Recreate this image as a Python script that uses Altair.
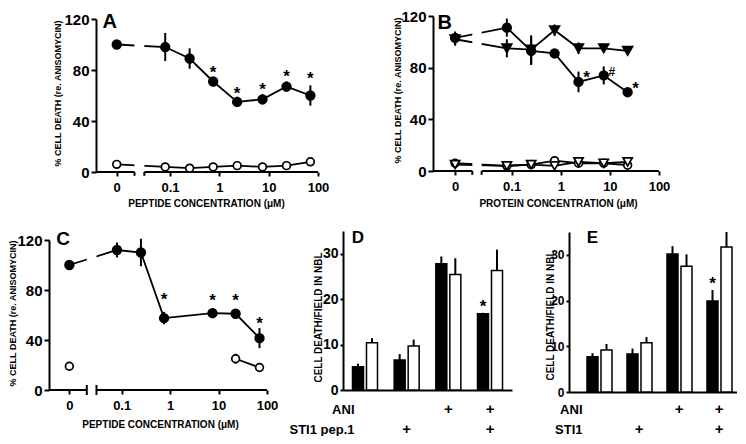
import math
import altair as alt
import pandas as pd

FONT = "Liberation Sans"

# ---------------- Panel A ----------------
A_CONC = [0, 0.08, 0.25, 0.75, 2.3, 7.5, 23, 70]
A_ANI = [100, 98, 89, 71, 55, 57, 67, 60]
A_ANI_ERR = [2, 11, 8, 3, 4, 4, 4, 8]
A_CTRL = [6, 4, 3, 4, 5, 4, 5, 8]
A_CTRL_ERR = [1, 1, 1, 1, 1, 1, 1, 1.5]
A_STAR_CONC = [0.75, 2.3, 7.5, 23, 70]
A_STAR_Y = [82, 66, 69, 79, 78]

# ---------------- Panel B ----------------
B_CONC = [0, 0.08, 0.25, 0.75, 2.3, 7.5, 23]
B_CIRC = [103, 111, 93, 91, 69, 74, 61]
B_CIRC_ERR = [5, 7, 11, 2, 8, 7, 2]
B_TRI = [102, 95, 94, 109, 95, 95, 93]
B_TRI_ERR = [5, 7, 11, 4.5, 4.5, 3, 2]
B_CIRC_OPEN = [6, 4, 5, 8, 6, 6, 4.5]
B_TRI_OPEN = [5, 4, 5, 4, 7, 6, 7]
B_MARK_CONC = [2.3, 7.5, 23]
B_MARK_Y = [77, 81, 68]
B_MARK_TEXT = ["*", "#", "*"]

# ---------------- Panel C ----------------
C_CONC = [0, 0.08, 0.25, 0.75, 7.5, 22.5, 70]
C_ANI = [100, 112, 110, 57.5, 61.5, 61, 41.5]
C_ANI_ERR = [4, 6, 11, 5, 4, 3, 8]
C_CTRL_CONC = [0, 22.5, 70]
C_CTRL = [19, 25, 18]
C_CTRL_ERR = [1, 4, 1.5]
C_CTRL_LINE = ["c0", "c1", "c1"]
C_STAR_CONC = [0.75, 7.5, 22.5, 70]
C_STAR_Y = [77, 76, 76, 58]

X_TICK_LABELS = ["0", "0.1", "1", "10", "100"]
X_TICK_LOG = [None, -1, 0, 1, 2]
Y_TICKS = [0, 40, 80, 120]
Y_TITLE = "% CELL DEATH (re. ANISOMYCIN)"

# ---------------- Panels D / E ----------------
GROUPS = ["g1", "g2", "g3", "g4"]
ANI_ROW = ["", "", "+", "+"]
STI_ROW = ["", "+", "", "+"]
D_FILLED = [5.1, 6.6, 27.8, 16.8]
D_FILLED_ERR = [0.7, 1.3, 1.6, 0.2]
D_OPEN = [10.4, 9.7, 25.4, 26.3]
D_OPEN_ERR = [1.0, 1.4, 3.6, 4.6]
D_STAR_GROUP, D_STAR_Y = "g4", 19.6
E_FILLED = [7.7, 8.3, 30.2, 19.9]
E_FILLED_ERR = [0.8, 1.2, 1.7, 2.4]
E_OPEN = [9.2, 10.8, 27.5, 31.7]
E_OPEN_ERR = [1.3, 1.2, 2.6, 3.3]
E_STAR_GROUP, E_STAR_Y = "g4", 25
BAR_TICKS = [0, 10, 20, 30]
BAR_TITLE = "CELL DEATH/FIELD IN NBL"


def upos(c, zero):
    return zero if c == 0 else math.log10(c)


def line_panel(cfg, series, marks, letter):
    zero = cfg["zero"]
    rows = []
    for s in series:
        for i, c in enumerate(s["conc"]):
            v, e = s["val"][i], s["err"][i]
            rows.append(dict(u=upos(c, zero), val=v, lo=v - e, hi=v + e,
                             line=s["line"][i], shape=s["shape"],
                             fill=s["fill"], sz=s["size"]))
    pts = pd.DataFrame(rows)
    xs = alt.Scale(domain=cfg["xdom"], range=cfg["xrange"], nice=False, zero=False)
    ys = alt.Scale(domain=[0, 120], range=cfg["yrange"], nice=False, zero=False)

    tick_vals = [zero if t is None else t for t in X_TICK_LOG]
    expr = ""
    for v, lab in zip(tick_vals, X_TICK_LABELS):
        expr += f"abs(datum.value - ({v})) < 0.01 ? '{lab}' : "
    expr += "''"
    xaxis = alt.Axis(values=tick_vals, labelExpr=expr, domain=False, grid=False,
                     ticks=True, tickSize=4, tickWidth=2, tickColor="black",
                     labelFont=FONT, labelFontSize=13, labelFontWeight="bold",
                     labelColor="black", labelPadding=5, labelOverlap=False,
                     labelFlush=False,
                     title=cfg["xtitle"], titleFont=FONT, titleFontSize=10,
                     titleFontWeight="bold", titleColor="black",
                     titleX=cfg["xtitleX"], titleY=cfg["xtitleY"],
                     titleBaseline="middle", titleAlign="center")
    yaxis = alt.Axis(values=Y_TICKS, domain=True, domainWidth=2, domainColor="black",
                     grid=False, tickSize=5, tickWidth=2, tickColor="black",
                     labelFont=FONT, labelFontSize=15, labelFontWeight="bold",
                     labelColor="black", labelPadding=2, offset=cfg["yoffset"],
                     title=Y_TITLE, titleFont=FONT, titleFontSize=9,
                     titleFontWeight="bold", titleColor="black",
                     titleX=cfg["ytitleX"], titleY=cfg["ytitleY"], titleAngle=270,
                     titleBaseline="middle", titleAlign="center")

    def X(f):
        return alt.X(f, type="quantitative", scale=xs, axis=xaxis)

    def Y(f):
        return alt.Y(f, type="quantitative", scale=ys, axis=yaxis)

    err = alt.Chart(pts[pts["hi"] - pts["lo"] > 2.5]).mark_rule(
        color="black", strokeWidth=2).encode(x=X("u"), y=Y("lo"), y2="hi")
    lines = alt.Chart(pts).mark_line(color="black", strokeWidth=1.8).encode(
        x=X("u"), y=Y("val"), detail="line:N", order="u:Q")
    b0, b1 = cfg["brk"]
    gap = alt.Chart(pd.DataFrame([dict(u=b0, b1=b1, val=-2, yhi=126)])).mark_rect(
        color="white").encode(x=X("u"), x2="b1", y=Y("val"), y2="yhi")
    lo_u, hi_u = cfg["xdom"][0], cfg["xdom"][1]
    seg = alt.Chart(pd.DataFrame([dict(u=lo_u, s1=b0, val=0),
                                  dict(u=b1, s1=hi_u, val=0)])).mark_rule(
        color="black", strokeWidth=2).encode(x=X("u"), x2="s1", y=Y("val"))
    t0, t1 = cfg["brk_tick"]
    btick = alt.Chart(pd.DataFrame([dict(u=b0, val=t0, t1=t1),
                                    dict(u=b1, val=t0, t1=t1)])).mark_rule(
        color="black", strokeWidth=2).encode(x=X("u"), y=Y("val"), y2="t1")
    points = alt.Chart(pts).mark_point(filled=True, stroke="black", strokeWidth=1.7,
                                       opacity=1).encode(
        x=X("u"), y=Y("val"),
        shape=alt.Shape("shape:N", scale=None),
        fill=alt.Fill("fill:N", scale=None),
        size=alt.Size("sz:Q", scale=None))
    mk = pd.DataFrame(dict(u=[upos(c, zero) for c in marks["conc"]],
                           val=marks["y"], t=marks["text"], fs=marks["fs"]))
    stars = alt.Chart(mk).mark_text(font=FONT, fontWeight="bold", baseline="middle",
                                    dx=marks["dx"], dy=6, color="black").encode(
        x=X("u"), y=Y("val"), text="t:N", size=alt.Size("fs:Q", scale=None))
    let = alt.Chart(pd.DataFrame([letter])).mark_text(
        font=FONT, fontWeight="bold", fontSize=letter["fs"], baseline="alphabetic",
        align="center", color="black").encode(x=X("u"), y=Y("val"), text="t:N")
    return alt.layer(err, lines, gap, seg, btick, points, stars, let).properties(
        width=cfg["width"], height=cfg["height"])


def bar_panel(cfg, filled, filled_err, opn, opn_err, star, letter):
    rows = []
    for i, g in enumerate(GROUPS):
        rows.append(dict(group=g, kind="filled", val=filled[i], hi=filled[i] + filled_err[i]))
        rows.append(dict(group=g, kind="open", val=opn[i], hi=opn[i] + opn_err[i]))
    df = pd.DataFrame(rows)
    xs = alt.Scale(domain=GROUPS, range=cfg["xrange"], paddingInner=0.4,
                   paddingOuter=cfg["po"], align=cfg["align"])
    xo = alt.Scale(domain=["filled", "open"], paddingInner=cfg["pin"], paddingOuter=0)
    ys = alt.Scale(domain=[0, 35], range=cfg["yrange"], nice=False, zero=False)
    expr = ""
    for g, a, s in zip(GROUPS, ANI_ROW, STI_ROW):
        expr += f"datum.value == '{g}' ? ['{a}', '{s}'] : "
    expr += "''"
    xaxis = alt.Axis(domain=True, domainWidth=2, domainColor="black", ticks=False,
                     tickSize=0, grid=False, labelExpr=expr, labelAngle=0,
                     labelFont=FONT, labelFontSize=15, labelFontWeight="bold",
                     labelColor="black", labelBaseline="top", labelPadding=cfg["lpad"],
                     labelLineHeight=20, labelOverlap=False, labelFlush=False,
                     title=cfg["rows"], titleFont=FONT, titleFontSize=13,
                     titleFontWeight="bold", titleColor="black", titleAngle=0,
                     titleAlign="right", titleBaseline="top", titleX=cfg["rtitleX"],
                     titleY=cfg["rtitleY"], titleLineHeight=20)
    yaxis = alt.Axis(values=BAR_TICKS, domain=True, domainWidth=2, domainColor="black",
                     grid=False, tickSize=3, tickWidth=2, tickColor="black",
                     labelFont=FONT, labelFontSize=cfg["lfs"], labelFontWeight="bold",
                     labelColor="black", labelPadding=2, offset=cfg["yoffset"],
                     title=BAR_TITLE, titleFont=FONT, titleFontSize=10,
                     titleFontWeight="bold", titleColor="black",
                     titleX=cfg["ytitleX"], titleY=cfg["ytitleY"], titleAngle=270,
                     titleBaseline="middle", titleAlign="center")
    X = alt.X("group:N", scale=xs, axis=xaxis)
    XO = alt.XOffset("kind:N", scale=xo)
    Y = alt.Y("val:Q", scale=ys, axis=yaxis)
    bars = alt.Chart(df).mark_bar(stroke="black", strokeWidth=1.5).encode(
        x=X, xOffset=XO, y=Y,
        fill=alt.Fill("kind:N", scale=alt.Scale(domain=["filled", "open"],
                                                range=["black", "white"]), legend=None))
    err = alt.Chart(df).mark_rule(color="black", strokeWidth=2).encode(
        x=X, xOffset=XO, y=Y, y2="hi")
    st = alt.Chart(pd.DataFrame([dict(group=star[0], kind="filled", val=star[1], t="*")])
                   ).mark_text(font=FONT, fontWeight="bold", fontSize=17,
                               baseline="middle", dy=6, color="black").encode(
        x=X, xOffset=XO, y=Y, text="t:N")
    let = alt.Chart(pd.DataFrame([dict(group="g1", kind="filled", val=letter[1], t=letter[0])])
                    ).mark_text(font=FONT, fontWeight="bold", fontSize=17,
                                baseline="alphabetic", color="black").encode(
        x=X, xOffset=XO, y=Y, text="t:N")
    return alt.layer(bars, err, st, let).properties(width=cfg["width"], height=cfg["height"])


FILLED_C = dict(shape="circle", fill="black", size=75)
OPEN_C = dict(shape="circle", fill="white", size=60)
FILLED_T = dict(shape="triangle-down", fill="black", size=95)
OPEN_T = dict(shape="triangle-down", fill="white", size=85)

# Grid columns (flush bounds): col1 337 px (starts at A's y axis),
# col2 136 px (starts at B's y axis), col3 168 px (E).
# ---- A ----
cfgA = dict(xdom=[-2.5, 2], xrange=[0, 222], yrange=[157, 4], width=337, height=157,
            zero=-2.08, brk=[-1.72, -1.52], brk_tick=[0, -3], yoffset=0,
            ytitleX=-39, ytitleY=78, xtitle="PEPTIDE CONCENTRATION (μM)",
            xtitleX=110, xtitleY=31)
seriesA = [
    dict(conc=A_CONC, val=A_ANI, err=A_ANI_ERR, line=["a"] * 8, **FILLED_C),
    dict(conc=A_CONC, val=A_CTRL, err=A_CTRL_ERR, line=["b"] * 8, **OPEN_C),
]
marksA = dict(conc=A_STAR_CONC, y=A_STAR_Y, text=["*"] * 5, fs=[17] * 5, dx=0)
chartA = line_panel(cfgA, seriesA, marksA, dict(u=-2.22, val=113, t="A", fs=20))

# ---- B ----
cfgB = dict(xdom=[-2.6, 2], xrange=[0, 226], yrange=[156, 1], width=136, height=156,
            zero=-2.15, brk=[-1.8, -1.61], brk_tick=[0, -3], yoffset=0,
            ytitleX=-36, ytitleY=75, xtitle="PROTEIN CONCENTRATION (μM)",
            xtitleX=125, xtitleY=32)
seriesB = [
    dict(conc=B_CONC, val=B_CIRC, err=B_CIRC_ERR, line=["a"] * 7, **FILLED_C),
    dict(conc=B_CONC, val=B_TRI, err=B_TRI_ERR, line=["b"] * 7, **FILLED_T),
    dict(conc=B_CONC, val=B_CIRC_OPEN, err=[0] * 7, line=["c"] * 7, **OPEN_C),
    dict(conc=B_CONC, val=B_TRI_OPEN, err=[0] * 7, line=["d"] * 7, **OPEN_T),
]
marksB = dict(conc=B_MARK_CONC, y=B_MARK_Y, text=B_MARK_TEXT, fs=[17, 12, 17], dx=8)
chartB = line_panel(cfgB, seriesB, marksB, dict(u=-2.36, val=110, t="B", fs=20))

# ---- C ----
cfgC = dict(xdom=[-2.5, 2], xrange=[-47, 171], yrange=[159, 9], width=337, height=159,
            zero=-2.08, brk=[-1.72, -1.52], brk_tick=[4, -4], yoffset=47,
            ytitleX=-37, ytitleY=82, xtitle="PEPTIDE CONCENTRATION (μM)",
            xtitleX=64, xtitleY=34)
seriesC = [
    dict(conc=C_CONC, val=C_ANI, err=C_ANI_ERR, line=["a"] * 7, **FILLED_C),
    dict(conc=C_CTRL_CONC, val=C_CTRL, err=C_CTRL_ERR, line=C_CTRL_LINE, **OPEN_C),
]
marksC = dict(conc=C_STAR_CONC, y=C_STAR_Y, text=["*"] * 4, fs=[17] * 4, dx=0)
chartC = line_panel(cfgC, seriesC, marksC, dict(u=-2.21, val=116, t="C", fs=19))

# ---- D / E ----
cfgD = dict(xrange=[-90, 79], yrange=[159, 0], width=136, height=159, po=0.228,
            align=0.5, pin=0.214, rows=["ANI", "STI1 pep.1"], rtitleX=-79,
            rtitleY=13, lpad=11, lfs=14, yoffset=90, ytitleX=-25, ytitleY=86)
chartD = bar_panel(cfgD, D_FILLED, D_FILLED_ERR, D_OPEN, D_OPEN_ERR,
                   (D_STAR_GROUP, D_STAR_Y), ("D", 32.4))
cfgE = dict(xrange=[0, 168], yrange=[161, 1], width=168, height=161, po=0.3,
            align=0.75, pin=0.154, rows=["ANI", "STI1"], rtitleX=13,
            rtitleY=11, lpad=9, lfs=12, yoffset=0, ytitleX=-19, ytitleY=84)
chartE = bar_panel(cfgE, E_FILLED, E_FILLED_ERR, E_OPEN, E_OPEN_ERR,
                   (E_STAR_GROUP, E_STAR_Y), ("E", 32.6))

blank = alt.Chart(pd.DataFrame({"z": [0]})).mark_point(opacity=0).encode(
    x=alt.X("z:Q", axis=None), y=alt.Y("z:Q", axis=None)).properties(width=1, height=1)

chart = alt.concat(chartA, chartB, blank, chartC, chartD, chartE, columns=3,
                   spacing={"row": 59, "column": 0}, bounds="flush"
                   ).properties(padding=0, background="white"
                   ).configure(font=FONT).configure_view(stroke=None)

chart.save("out.html", embed_options={"renderer": "svg", "actions": False})
